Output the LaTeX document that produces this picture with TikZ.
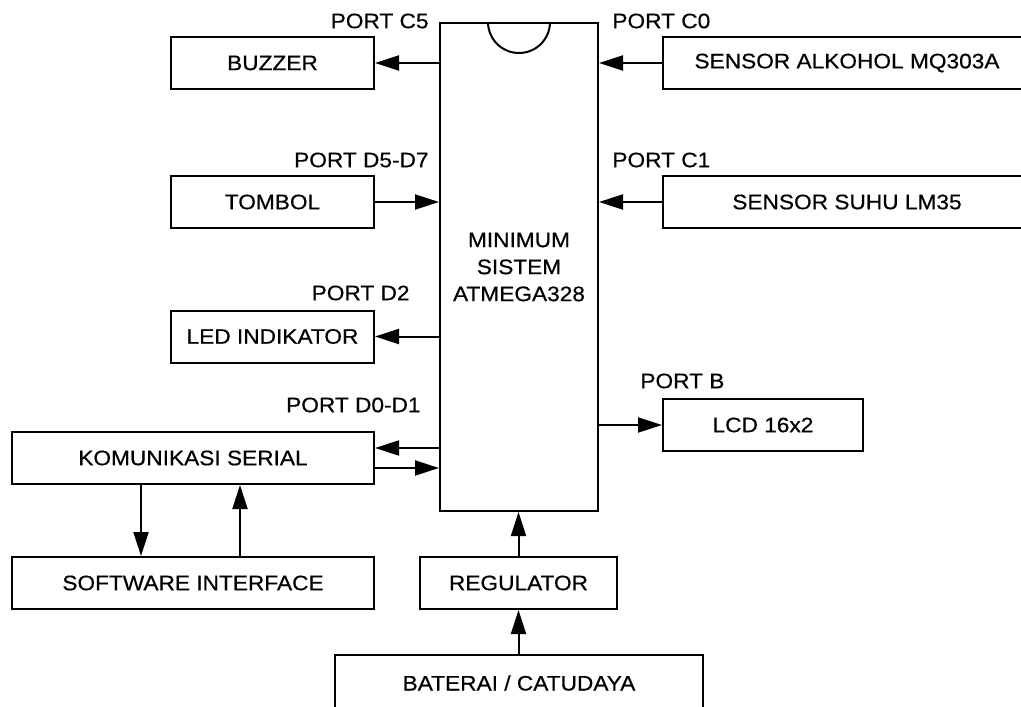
\documentclass[tikz,border=0pt]{standalone}
\usepackage{fontspec}
\setmainfont{Liberation Sans}[FakeStretch=1.08,FakeBold=0.5]
\usetikzlibrary{arrows.meta}

\tikzset{
    every node/.style={font=\fontsize{10.5}{13.5}\selectfont},
    blok/.style={draw, line width=1pt, inner sep=0pt, minimum height=26pt},
    panah/.style={-{Triangle[length=12pt,width=7.5pt]}, line width=1pt},
    port/.style={inner sep=0pt},
}

\begin{document}
\begin{tikzpicture}[x=0.5pt,y=-0.5pt]
    \useasboundingbox (0,0) rectangle (1021,706);
    \clip (0,0) rectangle (1021,706);

    % mikrokontroler
    \node[blok, minimum width=79pt, minimum height=244pt, align=center] (mcu) at (519,267) {MINIMUM\\SISTEM\\ATMEGA328};
    \draw[line width=1pt] ([xshift=-15.5pt]mcu.north) arc[start angle=180, end angle=360, radius=15.5pt];

    % blok kiri
    \node[blok, minimum width=101.5pt] (buzzer) at (272.5,63) {BUZZER};
    \node[blok, minimum width=101.5pt] (tombol) at (272.5,202) {TOMBOL};
    \node[blok, minimum width=101.5pt] (led) at (272.5,336.5) {LED INDIKATOR};
    \node[blok, minimum width=181pt] (kom) at (193,458) {KOMUNIKASI SERIAL};
    \node[blok, minimum width=181pt] (software) at (193,583) {SOFTWARE INTERFACE};

    % blok kanan
    \node[blok, minimum width=184pt] (alkohol) at (847,63) {SENSOR ALKOHOL MQ303A};
    \node[blok, minimum width=184pt] (suhu) at (847,202) {SENSOR SUHU LM35};
    \node[blok, minimum width=100pt] (lcd) at (763,425) {LCD 16x2};

    % catu daya
    \node[blok, minimum width=98.5pt] (regulator) at (518.5,583) {REGULATOR};
    \node[blok, minimum width=184pt, minimum height=28pt] (baterai) at (519,683) {BATERAI / CATUDAYA};

    % label port
    \node[port, anchor=east] (lc5) at (429,21) {PORT C5};
    \node[port, anchor=east] (ld57) at (429,160) {PORT D5-D7};
    \node[port, anchor=east] (ld2) at (410,293) {PORT D2};
    \node[port, anchor=east] (ld01) at (421,405) {PORT D0-D1};
    \node[port, anchor=west] (lc0) at (612,21) {PORT C0};
    \node[port, anchor=west] (lc1) at (612,160) {PORT C1};
    \node[port, anchor=west] (lb) at (640,381) {PORT B};

    % panah kiri
    \draw[panah] (buzzer.east -| mcu.west) -- (buzzer.east);
    \draw[panah] (tombol.east) -- (tombol.east -| mcu.west);
    \draw[panah] (led.east -| mcu.west) -- (led.east);
    \coordinate (txd) at ([yshift=5pt]kom.east);
    \coordinate (rxd) at ([yshift=-5pt]kom.east);
    \draw[panah] (txd -| mcu.west) -- (txd);
    \draw[panah] (rxd) -- (rxd -| mcu.west);
    \coordinate (turun) at ([xshift=-26pt]kom.south);
    \coordinate (naik) at ([xshift=23.5pt]software.north);
    \draw[panah] (turun) -- (turun |- software.north);
    \draw[panah] (naik) -- (naik |- kom.south);

    % panah kanan
    \draw[panah] (alkohol.west) -- (alkohol.west -| mcu.east);
    \draw[panah] (suhu.west) -- (suhu.west -| mcu.east);
    \draw[panah] (lcd.west -| mcu.east) -- (lcd.west);

    % panah catu daya
    \draw[panah] (regulator.north) -- (regulator.north |- mcu.south);
    \draw[panah] (regulator.south |- baterai.north) -- (regulator.south);
\end{tikzpicture}
\end{document}
